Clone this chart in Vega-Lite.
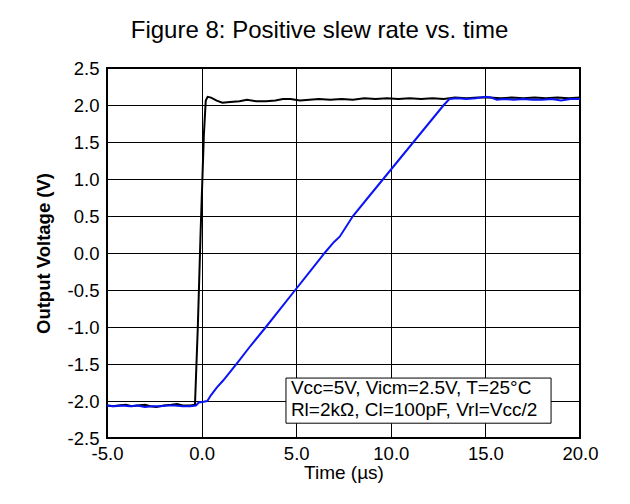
{
  "$schema": "https://vega.github.io/schema/vega-lite/v6.json",
  "autosize": {"type": "none"},
  "padding": {"left": 107, "top": 68, "right": 50, "bottom": 66},
  "width": 473,
  "height": 370,
  "background": "white",
  "config": {
    "font": "Liberation Sans",
    "view": {"stroke": "black", "strokeWidth": 2},
    "axis": {
      "grid": true, "gridColor": "black", "gridOpacity": 1, "gridWidth": 1,
      "domain": false, "ticks": false, "labelOverlap": false, "labelBound": false, "labelFlush": false,
      "labelFont": "Liberation Sans", "labelFontSize": 18.5, "labelColor": "black",
      "titleFont": "Liberation Sans", "titleFontSize": 19, "titleColor": "black"
    }
  },
  "title": {
    "text": "Figure 8: Positive slew rate vs. time",
    "font": "Liberation Sans", "fontSize": 24, "fontWeight": "normal", "color": "black",
    "anchor": "middle", "dx": -24, "offset": 16
  },
  "datasets": {
    "series": [
      {"s": "Black", "t": -5.0, "v": -2.06},
      {"s": "Black", "t": -4.7, "v": -2.07},
      {"s": "Black", "t": -4.4, "v": -2.06},
      {"s": "Black", "t": -4.0, "v": -2.05},
      {"s": "Black", "t": -3.7, "v": -2.07},
      {"s": "Black", "t": -3.4, "v": -2.06},
      {"s": "Black", "t": -3.0, "v": -2.05},
      {"s": "Black", "t": -2.7, "v": -2.07},
      {"s": "Black", "t": -2.4, "v": -2.08},
      {"s": "Black", "t": -2.0, "v": -2.06},
      {"s": "Black", "t": -1.6, "v": -2.05},
      {"s": "Black", "t": -1.3, "v": -2.04},
      {"s": "Black", "t": -1.0, "v": -2.06},
      {"s": "Black", "t": -0.6, "v": -2.06},
      {"s": "Black", "t": -0.35, "v": -2.05},
      {"s": "Black", "t": -0.2, "v": -1.0},
      {"s": "Black", "t": -0.05, "v": 0.3},
      {"s": "Black", "t": 0.12, "v": 1.6},
      {"s": "Black", "t": 0.22, "v": 2.06},
      {"s": "Black", "t": 0.32, "v": 2.11},
      {"s": "Black", "t": 0.5, "v": 2.1},
      {"s": "Black", "t": 0.8, "v": 2.06},
      {"s": "Black", "t": 1.1, "v": 2.03},
      {"s": "Black", "t": 1.5, "v": 2.04},
      {"s": "Black", "t": 2.0, "v": 2.05},
      {"s": "Black", "t": 2.4, "v": 2.07},
      {"s": "Black", "t": 2.9, "v": 2.05},
      {"s": "Black", "t": 3.4, "v": 2.05},
      {"s": "Black", "t": 3.9, "v": 2.06},
      {"s": "Black", "t": 4.3, "v": 2.08},
      {"s": "Black", "t": 4.7, "v": 2.08},
      {"s": "Black", "t": 5.2, "v": 2.06},
      {"s": "Black", "t": 5.7, "v": 2.07},
      {"s": "Black", "t": 6.2, "v": 2.08},
      {"s": "Black", "t": 6.8, "v": 2.07},
      {"s": "Black", "t": 7.4, "v": 2.08},
      {"s": "Black", "t": 8.0, "v": 2.07},
      {"s": "Black", "t": 8.6, "v": 2.09},
      {"s": "Black", "t": 9.2, "v": 2.08},
      {"s": "Black", "t": 9.8, "v": 2.09},
      {"s": "Black", "t": 10.4, "v": 2.08},
      {"s": "Black", "t": 11.0, "v": 2.09},
      {"s": "Black", "t": 11.6, "v": 2.08},
      {"s": "Black", "t": 12.2, "v": 2.09},
      {"s": "Black", "t": 12.8, "v": 2.08},
      {"s": "Black", "t": 13.4, "v": 2.1},
      {"s": "Black", "t": 14.0, "v": 2.09},
      {"s": "Black", "t": 14.6, "v": 2.1},
      {"s": "Black", "t": 15.2, "v": 2.1},
      {"s": "Black", "t": 15.8, "v": 2.09},
      {"s": "Black", "t": 16.4, "v": 2.1},
      {"s": "Black", "t": 17.0, "v": 2.09},
      {"s": "Black", "t": 17.6, "v": 2.1},
      {"s": "Black", "t": 18.2, "v": 2.09},
      {"s": "Black", "t": 18.8, "v": 2.1},
      {"s": "Black", "t": 19.4, "v": 2.09},
      {"s": "Black", "t": 20.0, "v": 2.1},
      {"s": "Blue", "t": -5.0, "v": -2.06},
      {"s": "Blue", "t": -4.6, "v": -2.07},
      {"s": "Blue", "t": -4.2, "v": -2.06},
      {"s": "Blue", "t": -3.8, "v": -2.07},
      {"s": "Blue", "t": -3.4, "v": -2.06},
      {"s": "Blue", "t": -3.0, "v": -2.08},
      {"s": "Blue", "t": -2.6, "v": -2.07},
      {"s": "Blue", "t": -2.2, "v": -2.07},
      {"s": "Blue", "t": -1.8, "v": -2.06},
      {"s": "Blue", "t": -1.4, "v": -2.06},
      {"s": "Blue", "t": -1.0, "v": -2.07},
      {"s": "Blue", "t": -0.6, "v": -2.07},
      {"s": "Blue", "t": -0.3, "v": -2.06},
      {"s": "Blue", "t": -0.15, "v": -2.02},
      {"s": "Blue", "t": 0.1, "v": -2.01},
      {"s": "Blue", "t": 0.3, "v": -2.0},
      {"s": "Blue", "t": 0.5, "v": -1.92},
      {"s": "Blue", "t": 0.8, "v": -1.82},
      {"s": "Blue", "t": 1.15, "v": -1.72},
      {"s": "Blue", "t": 1.9, "v": -1.48},
      {"s": "Blue", "t": 2.6, "v": -1.25},
      {"s": "Blue", "t": 3.4, "v": -1.0},
      {"s": "Blue", "t": 4.2, "v": -0.74},
      {"s": "Blue", "t": 4.95, "v": -0.5},
      {"s": "Blue", "t": 5.7, "v": -0.26},
      {"s": "Blue", "t": 6.5, "v": 0.0},
      {"s": "Blue", "t": 7.0, "v": 0.15},
      {"s": "Blue", "t": 7.3, "v": 0.22},
      {"s": "Blue", "t": 8.0, "v": 0.5},
      {"s": "Blue", "t": 8.8, "v": 0.75},
      {"s": "Blue", "t": 9.6, "v": 1.0},
      {"s": "Blue", "t": 10.4, "v": 1.25},
      {"s": "Blue", "t": 11.2, "v": 1.5},
      {"s": "Blue", "t": 12.0, "v": 1.75},
      {"s": "Blue", "t": 12.8, "v": 2.0},
      {"s": "Blue", "t": 13.1, "v": 2.08},
      {"s": "Blue", "t": 13.5, "v": 2.09},
      {"s": "Blue", "t": 14.0, "v": 2.08},
      {"s": "Blue", "t": 14.5, "v": 2.09},
      {"s": "Blue", "t": 15.0, "v": 2.11},
      {"s": "Blue", "t": 15.3, "v": 2.1},
      {"s": "Blue", "t": 15.6, "v": 2.07},
      {"s": "Blue", "t": 16.0, "v": 2.08},
      {"s": "Blue", "t": 16.5, "v": 2.07},
      {"s": "Blue", "t": 17.0, "v": 2.08},
      {"s": "Blue", "t": 17.5, "v": 2.07},
      {"s": "Blue", "t": 18.0, "v": 2.07},
      {"s": "Blue", "t": 18.5, "v": 2.08},
      {"s": "Blue", "t": 19.0, "v": 2.06},
      {"s": "Blue", "t": 19.5, "v": 2.08},
      {"s": "Blue", "t": 20.0, "v": 2.08}
    ],
    "box": [{"t": 4.46, "t2": 18.47, "v": -1.69, "v2": -2.3}],
    "notes": [
      {"t": 4.72, "v": -1.82, "label": "Vcc=5V, Vicm=2.5V, T=25°C"},
      {"t": 4.72, "v": -2.12, "label": "Rl=2kΩ, Cl=100pF, Vrl=Vcc/2"}
    ]
  },
  "encoding": {
    "x": {"field": "t", "type": "quantitative",
          "scale": {"domain": [-5, 20], "nice": false, "zero": false},
          "axis": {"values": [-5, 0, 5, 10, 15, 20], "labelOverlap": false, "title": "Time (µs)", "titleFontWeight": "normal", "titlePadding": 1, "labelPadding": 6,
                   "labelExpr": "replace(format(datum.value, '.1f'), '−', '-')"}},
    "y": {"field": "v", "type": "quantitative",
          "scale": {"domain": [-2.5, 2.5], "nice": false, "zero": false},
          "axis": {"values": [-2.5, -2, -1.5, -1, -0.5, 0, 0.5, 1, 1.5, 2, 2.5], "labelOverlap": false, "title": "Output Voltage (V)", "titleFontWeight": "bold", "titleFontSize": 18.5, "titlePadding": 14, "labelPadding": 8,
                   "labelExpr": "replace(format(datum.value, '.1f'), '−', '-')"}}
  },
  "layer": [
    {
      "data": {"name": "series"},
      "transform": [{"filter": "datum.s === 'Black'"}],
      "mark": {"type": "line", "color": "black", "strokeWidth": 2, "clip": true}
    },
    {
      "data": {"name": "series"},
      "transform": [{"filter": "datum.s === 'Blue'"}],
      "mark": {"type": "line", "color": "#0a14f5", "strokeWidth": 2, "clip": true}
    },
    {
      "data": {"name": "box"},
      "mark": {"type": "rect", "fill": "white", "stroke": "black", "strokeWidth": 1},
      "encoding": {
        "x2": {"field": "t2"},
        "y2": {"field": "v2"}
      }
    },
    {
      "data": {"name": "notes"},
      "mark": {"type": "text", "align": "left", "baseline": "middle", "font": "Liberation Sans", "fontSize": 19, "color": "black"},
      "encoding": {
        "text": {"field": "label"}
      }
    }
  ]
}
